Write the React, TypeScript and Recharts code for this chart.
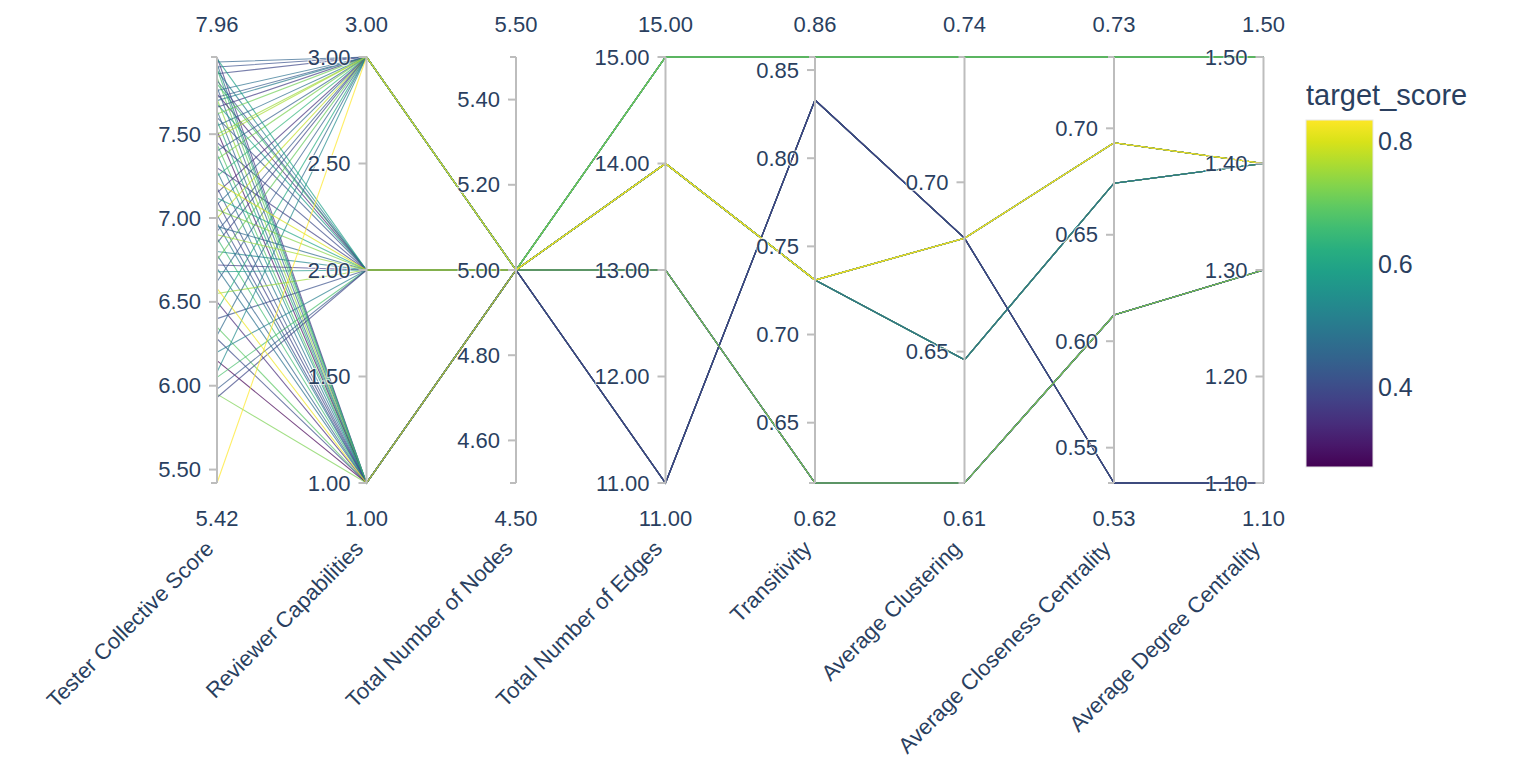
import React from 'react';
import { LineChart, Line, XAxis, YAxis, ReferenceLine, ReferenceDot } from 'recharts';

const dimensionNames = [
  'Tester Collective Score',
  'Reviewer Capabilities',
  'Total Number of Nodes',
  'Total Number of Edges',
  'Transitivity',
  'Average Clustering',
  'Average Closeness Centrality',
  'Average Degree Centrality',
];

// one entry per record (drawing order: later records are on top)
const testerScore = [
  7.93, 7.96, 7.88, 7.90, 7.84, 7.86, 7.80, 7.78, 7.76, 7.74,
  7.72, 7.71, 7.70, 7.68, 7.66, 7.64, 7.62, 7.60, 7.58, 7.55,
  7.52, 7.48, 7.45, 7.44, 7.40, 7.38, 7.35, 7.30, 7.28, 7.25,
  7.18, 7.15, 7.12, 7.08, 7.05, 7.02, 7.00, 6.97, 6.92, 6.88,
  6.85, 6.80, 6.78, 6.75, 6.72, 6.70, 6.68, 6.62, 6.55, 6.50,
  6.45, 6.40, 6.35, 6.30, 6.28, 6.20, 6.15, 6.08, 6.05, 5.98,
  5.95, 5.93, 7.92, 7.89, 7.82, 7.95, 7.10, 6.95, 6.90, 7.50,
  7.21, 6.58, 5.42,
];
const reviewerCap = [
  3, 1, 2, 3, 1, 3, 2, 1, 3, 2,
  3, 1, 3, 2, 3, 1, 3, 2, 1, 3,
  1, 3, 2, 1, 3, 1, 3, 2, 1, 3,
  1, 3, 2, 3, 2, 1, 3, 1, 3, 1,
  3, 2, 1, 3, 2, 1, 2, 3, 2, 1,
  3, 2, 1, 3, 1, 2, 1, 3, 2, 2,
  1, 2, 1, 1, 2, 2, 1, 2, 2, 3,
  2, 1, 3,
];
// index into the network configuration arrays below
const networkCfg = [
  0, 3, 1, 2, 0, 4, 3, 2, 0, 4,
  1, 3, 2, 0, 3, 1, 4, 2, 0, 3,
  4, 1, 0, 2, 3, 0, 4, 1, 2, 0,
  3, 1, 2, 4, 0, 3, 2, 1, 0, 4,
  3, 1, 0, 2, 3, 4, 0, 1, 2, 3,
  0, 4, 1, 2, 3, 0, 4, 1, 2, 3,
  0, 1, 2, 3, 4, 0, 4, 2, 0, 3,
  1, 1, 1,
];
const targetScore = [
  0.45, 0.36, 0.52, 0.41, 0.70, 0.39, 0.66, 0.44, 0.48, 0.33,
  0.43, 0.74, 0.50, 0.58, 0.37, 0.46, 0.71, 0.42, 0.63, 0.47,
  0.30, 0.76, 0.40, 0.68, 0.44, 0.55, 0.72, 0.38, 0.49, 0.64,
  0.42, 0.35, 0.60, 0.46, 0.73, 0.41, 0.78, 0.50, 0.43, 0.66,
  0.39, 0.53, 0.45, 0.70, 0.37, 0.48, 0.57, 0.44, 0.75, 0.34,
  0.62, 0.41, 0.69, 0.46, 0.40, 0.51, 0.271, 0.54, 0.67, 0.43,
  0.72, 0.39, 0.47, 0.65, 0.42, 0.59, 0.39, 0.46, 0.75, 0.75,
  0.80, 0.82, 0.834,
];

// network configurations
const cfgNodes = [5, 5, 5, 5, 5];
const cfgEdges = [15, 14, 14, 13, 11];
const cfgTransitivity = [0.8574, 0.7309, 0.7309, 0.6158, 0.833];
const cfgClustering = [0.737, 0.6835, 0.6476, 0.6112, 0.6835];
const cfgCloseness = [0.7335, 0.6932, 0.6742, 0.6123, 0.5334];
const cfgDegree = [1.5, 1.4, 1.4, 1.3, 1.1];

const axisTicks = [
  [5.5, 6.0, 6.5, 7.0, 7.5],
  [1.0, 1.5, 2.0, 2.5, 3.0],
  [4.6, 4.8, 5.0, 5.2, 5.4],
  [11, 12, 13, 14, 15],
  [0.65, 0.7, 0.75, 0.8, 0.85],
  [0.65, 0.7],
  [0.55, 0.6, 0.65, 0.7],
  [1.1, 1.2, 1.3, 1.4, 1.5],
];
const colorbarTicks = [0.4, 0.6, 0.8];

const VIRIDIS = [
  '#440154', '#48186a', '#472d7b', '#424086', '#3b528b', '#33638d', '#2c728e', '#26828e',
  '#21918c', '#1fa088', '#28ae80', '#3fbc73', '#5ec962', '#84d44b', '#addc30', '#d8e219', '#fde725',
];
function hexToRgb(h: string) {
  return [parseInt(h.slice(1, 3), 16), parseInt(h.slice(3, 5), 16), parseInt(h.slice(5, 7), 16)];
}
function viridis(t: number) {
  const tt = Math.max(0, Math.min(1, t));
  const s = tt * (VIRIDIS.length - 1);
  const i = Math.min(VIRIDIS.length - 2, Math.floor(s));
  const f = s - i;
  const a = hexToRgb(VIRIDIS[i]);
  const b = hexToRgb(VIRIDIS[i + 1]);
  const c = a.map((v, k) => Math.round(v + (b[k] - v) * f));
  return `rgb(${c[0]},${c[1]},${c[2]})`;
}

const recordValues = testerScore.map((ts, k) => {
  const c = networkCfg[k];
  return [ts, reviewerCap[k], cfgNodes[c], cfgEdges[c], cfgTransitivity[c], cfgClustering[c], cfgCloseness[c], cfgDegree[c]];
});

const axisRanges: [number, number][] = dimensionNames.map((_, d) => {
  const vals = recordValues.map((r) => r[d]);
  const lo = Math.min(...vals);
  const hi = Math.max(...vals);
  return lo === hi ? [lo - 0.5, hi + 0.5] : [lo, hi];
});
const norm = (d: number, v: number) => (v - axisRanges[d][0]) / (axisRanges[d][1] - axisRanges[d][0]);

const chartData = dimensionNames.map((name, d) => {
  const row: Record<string, number | string> = { idx: d, name };
  recordValues.forEach((r, k) => {
    row['r' + k] = norm(d, r[d]);
  });
  return row;
});

const cmin = Math.min(...targetScore);
const cmax = Math.max(...targetScore);

const FONT = '"Liberation Sans", Arial, sans-serif';
const TEXT = '#2a3f5f';
const AXIS = '#bdbdbd';

const W = 1506;
const H = 750;
const M = { top: 49, left: 209, right: 250.5, bottom: 245 };

const AxisTitle = (props: any) => {
  const { x, payload } = props;
  const name = dimensionNames[payload.value] ?? '';
  return (
    <text
      transform={`translate(${x - 2},${542}) rotate(-45)`}
      textAnchor="end"
      fontSize={22}
      fill={TEXT}
      fontFamily={FONT}
    >
      {name}
    </text>
  );
};

const TickShape = ({ cx, cy, label }: any) => (
  <g>
    <line x1={cx - 8} x2={cx} y1={cy} y2={cy} stroke={AXIS} strokeWidth={2} />
    <text
      x={cx - 16}
      y={cy}
      textAnchor="end"
      dominantBaseline="central"
      fontSize={22}
      fill={TEXT}
      fontFamily={FONT}
      stroke="#fff"
      strokeWidth={2}
      strokeOpacity={0.7}
      paintOrder="stroke"
    >
      {label}
    </text>
  </g>
);

const RangeShape = ({ cx, cy, label, top }: any) => (
  <g>
    <line x1={cx - 6} x2={cx} y1={cy} y2={cy} stroke={AXIS} strokeWidth={2} />
    <text
      x={cx}
      y={top ? cy - 33 : cy + 35}
      textAnchor="middle"
      dominantBaseline="central"
      fontSize={22}
      fill={TEXT}
      fontFamily={FONT}
    >
      {label}
    </text>
  </g>
);

const Colorbar = () => {
  const x = 1298;
  const y = 112;
  const w = 67;
  const h = 347;
  const pos = (v: number) => y + h - ((v - cmin) / (cmax - cmin)) * h;
  return (
    <svg width={W} height={H} style={{ position: 'absolute', left: 0, top: 0, pointerEvents: 'none' }}>
      <defs>
        <linearGradient id="viridisGrad" x1="0" y1="1" x2="0" y2="0">
          {VIRIDIS.map((c, i) => (
            <stop key={i} offset={`${(i / (VIRIDIS.length - 1)) * 100}%`} stopColor={c} />
          ))}
        </linearGradient>
      </defs>
      <text x={x} y={97} fontSize={29} fill={TEXT} fontFamily={FONT}>
        target_score
      </text>
      <rect x={x} y={y} width={w} height={h} fill="url(#viridisGrad)" stroke="#e8e8e8" strokeWidth={1} />
      {colorbarTicks.map((t) => (
        <text key={t} x={x + w + 5} y={pos(t)} dominantBaseline="central" fontSize={25} fill={TEXT} fontFamily={FONT}>
          {t.toFixed(1)}
        </text>
      ))}
    </svg>
  );
};

export default function App() {
  return (
    <div style={{ position: 'relative', width: W, height: H, fontFamily: FONT }}>
      <LineChart width={W} height={H} data={chartData} margin={M}>
        <XAxis
          dataKey="idx"
          type="number"
          domain={[0, 7]}
          ticks={[0, 1, 2, 3, 4, 5, 6, 7]}
          interval={0}
          axisLine={false}
          tickLine={false}
          height={30}
          tick={<AxisTitle />}
        />
        <YAxis hide type="number" domain={[0, 1]} />
        {recordValues.map((_, k) => (
          <Line
            key={'r' + k}
            type="linear"
            dataKey={'r' + k}
            stroke={viridis((targetScore[k] - cmin) / (cmax - cmin))}
            strokeWidth={1.1}
            strokeOpacity={0.7}
            dot={false}
            activeDot={false}
            isAnimationActive={false}
          />
        ))}
        {dimensionNames.map((_, d) => (
          <ReferenceLine key={'ax' + d} x={d} stroke={AXIS} strokeWidth={2} ifOverflow="visible" />
        ))}
        {axisTicks.map((ticks, d) =>
          ticks.map((t) => (
            <ReferenceDot
              key={`t${d}-${t}`}
              x={d}
              y={norm(d, t)}
              r={2}
              ifOverflow="visible"
              shape={(p: any) => <TickShape cx={p.cx} cy={p.cy} label={t.toFixed(2)} />}
            />
          ))
        )}
        {axisRanges.map((rg, d) => (
          <ReferenceDot
            key={`top${d}`}
            x={d}
            y={1}
            r={2}
            ifOverflow="visible"
            shape={(p: any) => <RangeShape cx={p.cx} cy={p.cy} label={rg[1].toFixed(2)} top />}
          />
        ))}
        {axisRanges.map((rg, d) => (
          <ReferenceDot
            key={`bot${d}`}
            x={d}
            y={0}
            r={2}
            ifOverflow="visible"
            shape={(p: any) => <RangeShape cx={p.cx} cy={p.cy} label={rg[0].toFixed(2)} top={false} />}
          />
        ))}
      </LineChart>
      <Colorbar />
    </div>
  );
}
